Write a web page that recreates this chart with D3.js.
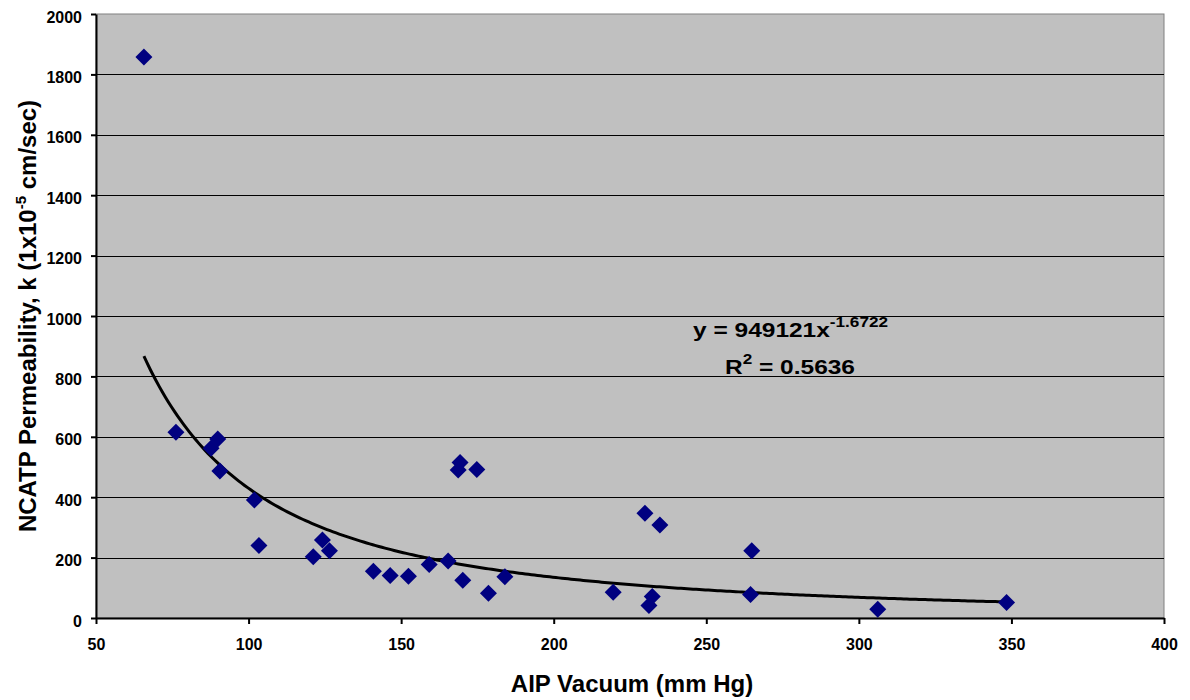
<!DOCTYPE html>
<html lang="en">
<head>
<meta charset="utf-8">
<title>NCATP Permeability vs AIP Vacuum</title>
<script src="https://cdn.jsdelivr.net/npm/d3@7"></script>
<style>
    body { margin: 0; background: #fff; }
    svg text { font-family: "Liberation Sans", Arial, sans-serif; font-weight: bold; }
</style>
</head>
<body>
<script>
// AIP vacuum (mm Hg) and permeability (1x10^-5 cm/sec)
var vacuum = [65.7, 76.2, 87.7, 89.9, 90.6, 101.9, 103.4, 121.2, 124.2, 126.5,
    140.9, 146.4, 152.4, 159.2, 165.4, 170.2, 169.3, 168.7, 174.8, 178.6,
    184.0, 219.5, 229.9, 234.8, 232.3, 231.2, 264.9, 264.5, 306.2, 348.4];
var permeability = [1858, 615, 562, 593, 487, 391, 240, 203, 258, 223,
    155, 141, 138, 177, 189, 125, 515, 490, 492, 82,
    137, 85, 347, 308, 71, 41, 223, 78, 29, 51];

var xTicks = [50, 100, 150, 200, 250, 300, 350, 400];
var yTicks = [0, 200, 400, 600, 800, 1000, 1200, 1400, 1600, 1800, 2000];

// power trendline y = a * x^b
var fitA = 949121, fitB = -1.6722;

drawChart();

function drawChart() {
    var w = 1190, h = 700;
    var pLeft = 96, pRight = 1164, pTop = 14, pBottom = 618;

    var svg = d3.select("body").append("svg")
        .attr("width", w)
        .attr("height", h);

    var xScale = d3.scaleLinear().domain([50, 400]).range([pLeft, pRight]);
    var yScale = d3.scaleLinear().domain([0, 2000]).range([pBottom, pTop]);

    // plot background
    svg.append("rect")
        .attr("x", pLeft).attr("y", pTop)
        .attr("width", pRight - pLeft).attr("height", pBottom - pTop)
        .attr("fill", "#c0c0c0")
        .attr("stroke", "#808080");

    // gridlines
    svg.append("g").selectAll("line")
        .data(yTicks.slice(1, -1))
        .enter().append("line")
        .attr("x1", pLeft).attr("x2", pRight)
        .attr("y1", d => Math.round(yScale(d)) + 0.5)
        .attr("y2", d => Math.round(yScale(d)) + 0.5)
        .attr("stroke", "#000")
        .attr("stroke-width", 1);

    // axes
    var xAxis = d3.axisBottom(xScale).tickValues(xTicks).tickFormat(d3.format("d"))
        .tickSize(6).tickSizeOuter(0).tickPadding(15);
    var yAxis = d3.axisLeft(yScale).tickValues(yTicks).tickFormat(d3.format("d"))
        .tickSize(5).tickSizeOuter(0).tickPadding(9);

    var gx = svg.append("g")
        .attr("transform", "translate(0," + pBottom + ")")
        .call(xAxis);
    var gy = svg.append("g")
        .attr("transform", "translate(" + pLeft + ",0)")
        .call(yAxis);

    [gx, gy].forEach(function (g) {
        g.selectAll("path, line").attr("stroke", "#000").attr("stroke-width", 2);
        g.selectAll("text").attr("fill", "#000").style("font-size", "16px");
    });
    gy.selectAll("text").attr("dy", "0.5em");

    // trendline
    var xs = d3.range(d3.min(vacuum), d3.max(vacuum) + 0.5, 1);
    var trend = d3.line()
        .x(d => xScale(d))
        .y(d => yScale(fitA * Math.pow(d, fitB)));
    svg.append("path")
        .datum(xs)
        .attr("d", trend)
        .attr("fill", "none")
        .attr("stroke", "#000")
        .attr("stroke-width", 3);

    // points
    var pts = vacuum.map((v, i) => ({ x: v, y: permeability[i] }));
    var r = 8.5;
    svg.append("g").selectAll("path")
        .data(pts)
        .enter().append("path")
        .attr("transform", d => "translate(" + xScale(d.x) + "," + yScale(d.y) + ")")
        .attr("d", "M0," + (-r) + "L" + r + ",0L0," + r + "L" + (-r) + ",0Z")
        .attr("fill", "#000080");

    // equation label
    var eq = svg.append("text")
        .attr("x", 693).attr("y", 337)
        .attr("textLength", 195).attr("lengthAdjust", "spacingAndGlyphs")
        .style("font-size", "20px");
    eq.append("tspan").text("y = 949121x");
    eq.append("tspan").attr("dy", -10).style("font-size", "14px").text("-1.6722");

    var r2 = svg.append("text")
        .attr("x", 725).attr("y", 374)
        .attr("textLength", 130).attr("lengthAdjust", "spacingAndGlyphs")
        .style("font-size", "20px");
    r2.append("tspan").text("R");
    r2.append("tspan").attr("dy", -10).style("font-size", "14px").text("2");
    r2.append("tspan").attr("dy", 10).text(" = 0.5636");

    // axis titles
    svg.append("text")
        .attr("x", 632).attr("y", 692)
        .attr("text-anchor", "middle")
        .style("font-size", "24px")
        .text("AIP Vacuum (mm Hg)");

    var yt = svg.append("text")
        .attr("transform", "translate(36,316) rotate(-90)")
        .attr("text-anchor", "middle")
        .style("font-size", "24px");
    yt.append("tspan").text("NCATP Permeability, k (1x10");
    yt.append("tspan").attr("dy", -10).style("font-size", "15px").text("-5");
    yt.append("tspan").attr("dy", 10).text(" cm/sec)");
}
</script>
</body>
</html>
